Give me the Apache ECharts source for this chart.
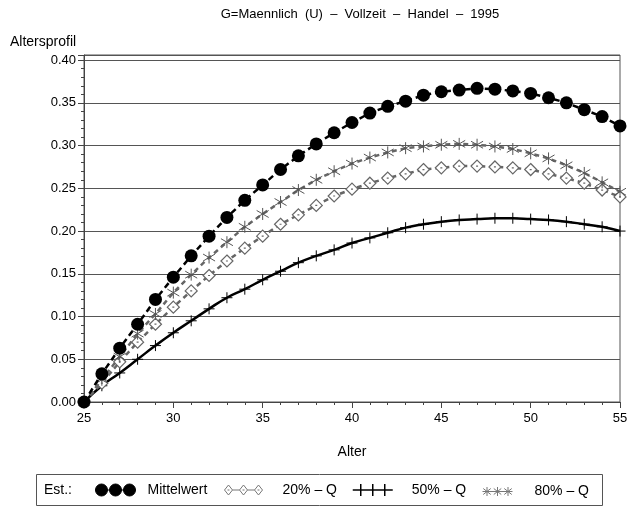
<!DOCTYPE html>
<html>
<head>
<meta charset="utf-8">
<script src="https://cdn.jsdelivr.net/npm/echarts@6/dist/echarts.min.js"></script>
<style>
html,body{margin:0;padding:0;background:#fff;}
#chart{width:639px;height:506px;}
</style>
</head>
<body>
<div id="chart"></div>
<script>
// ---- data ----
var ages = [25,26,27,28,29,30,31,32,33,34,35,36,37,38,39,40,41,42,43,44,45,46,47,48,49,50,51,52,53,54,55];
var mittelwert = [0.000,0.033,0.063,0.091,0.120,0.146,0.171,0.194,0.216,0.236,0.254,0.272,0.288,0.302,0.315,0.327,0.338,0.346,0.352,0.359,0.363,0.365,0.367,0.366,0.364,0.361,0.356,0.350,0.342,0.334,0.323];
var q20 = [0.000,0.022,0.047,0.070,0.091,0.111,0.130,0.148,0.165,0.180,0.194,0.208,0.219,0.230,0.241,0.249,0.256,0.262,0.267,0.272,0.274,0.276,0.276,0.275,0.274,0.272,0.267,0.262,0.256,0.248,0.240];
var q50 = [0.000,0.019,0.034,0.050,0.066,0.081,0.095,0.109,0.122,0.132,0.143,0.153,0.163,0.171,0.178,0.186,0.192,0.198,0.204,0.208,0.211,0.213,0.214,0.215,0.215,0.214,0.213,0.211,0.208,0.205,0.200];
var q80 = [0.000,0.026,0.053,0.080,0.103,0.128,0.149,0.169,0.187,0.205,0.220,0.234,0.248,0.260,0.270,0.279,0.286,0.292,0.297,0.299,0.301,0.302,0.301,0.299,0.296,0.291,0.285,0.277,0.268,0.257,0.246];
var seriesNames = ['Mittelwert','20% – Q','50% – Q','80% – Q'];
var yTicks = [0,0.05,0.10,0.15,0.20,0.25,0.30,0.35,0.40];
var xTicks = [25,30,35,40,45,50,55];
var titleText = 'G=Maennlich  (U)  –  Vollzeit  –  Handel  –  1995';

function pairs(vals){ return ages.map(function(a,i){ return [a, vals[i]]; }); }

var FONT = 'Liberation Sans';
var chart = echarts.init(document.getElementById('chart'), null, {renderer:'canvas'});

var diamondSym = 'path://M6,0L12,6L6,12L0,6Z M5,6L7,6';
var plusSym = 'path://M6,0L6,12 M0,6L12,6';
var starSym = 'path://M6,0L6,12 M0,2.5L12,9.5 M0,9.5L12,2.5';

var legCircle = 'path://M0,6L40,6 M0,6a6,6 0 1,0 12,0a6,6 0 1,0 -12,0 M14,6a6,6 0 1,0 12,0a6,6 0 1,0 -12,0 M28,6a6,6 0 1,0 12,0a6,6 0 1,0 -12,0';
var legDiamond = 'path://M5,1L9,6L5,11L1,6Z M20,1L24,6L20,11L16,6Z M35,1L39,6L35,11L31,6Z M9,6L16,6 M24,6L31,6 M4,6L6,6 M19,6L21,6 M34,6L36,6 M0,6L0,6 M40,6L40,6 M20,0L20,0 M20,12L20,12';
var legPlus = 'path://M0,6L40,6 M8,0L8,12 M20,0L20,12 M32,0L32,12';
var legStar = 'path://M0,6L40,6 M6,0L6,12 M1,2L11,10 M1,10L11,2 M20,0L20,12 M15,2L25,10 M15,10L25,2 M34,0L34,12 M29,2L39,10 M29,10L39,2';

function legend(name, icon, left, pad, h, style){
  return {
    data:[{name:name, icon:icon, itemStyle:style}],
    left:left, top:490 - h/2 - 1, itemWidth:40, itemHeight:h, padding:0,
    selectedMode:false,
    textStyle:{fontFamily:FONT, fontSize:14, color:'#000', padding:[0,0,0,pad]}
  };
}

var option = {
  animation:false,
  backgroundColor:'#fff',
  grid:{left:84, right:19, top:55, bottom:104, show:true, borderColor:'#555', borderWidth:1, backgroundColor:'transparent'},
  xAxis:{
    type:'value', min:25, max:55, interval:5,
    name:'Alter', nameLocation:'middle', nameGap:43,
    nameTextStyle:{fontFamily:FONT, fontSize:14, color:'#000'},
    axisLine:{show:true, onZero:false, lineStyle:{color:'#444', width:1}},
    axisTick:{show:true, inside:false, length:6, lineStyle:{color:'#444'}},
    minorTick:{show:true, splitNumber:5, length:3, lineStyle:{color:'#444'}},
    axisLabel:{fontFamily:FONT, fontSize:13, color:'#000', margin:10,
      formatter:function(v){ return xTicks.indexOf(v) >= 0 ? String(v) : ''; }},
    splitLine:{show:false}
  },
  yAxis:{
    type:'value', min:0, max:0.406, interval:0.05,
    axisLine:{show:true, lineStyle:{color:'#444', width:1}},
    axisTick:{show:true, inside:false, length:6, lineStyle:{color:'#444'}},
    minorTick:{show:true, splitNumber:5, length:3, lineStyle:{color:'#444'}},
    axisLabel:{fontFamily:FONT, fontSize:13, color:'#000', margin:8,
      formatter:function(v){
        for (var i=0;i<yTicks.length;i++){ if (Math.abs(yTicks[i]-v) < 1e-6) return yTicks[i].toFixed(2); }
        return '';
      }},
    splitLine:{show:true, lineStyle:{color:'#555', width:1}}
  },
  graphic:[
    {type:'text', left:10, top:35, style:{text:'Altersprofil', font:'14px "Liberation Sans"', fill:'#000'}},
    {type:'text', x:360, y:14, style:{text:titleText, font:'13px "Liberation Sans"', fill:'#000', align:'center', verticalAlign:'middle'}},
    {type:'rect', shape:{x:36.5, y:474.5, width:566, height:31}, style:{fill:'none', stroke:'#555', lineWidth:1}},
    {type:'text', x:44, y:490, style:{text:'Est.:', font:'14px "Liberation Sans"', fill:'#000', verticalAlign:'middle'}}
  ],
  legend:[
    legend(seriesNames[0], legCircle, 95, 7, 12, {color:'#000', borderColor:'#000', borderWidth:1}),
    legend(seriesNames[1], legDiamond, 223, 14, 12, {color:'#fff', borderColor:'#777', borderWidth:1}),
    legend(seriesNames[2], legPlus, 352, 14, 12, {color:'#000', borderColor:'#000', borderWidth:1.5}),
    legend(seriesNames[3], legStar, 482, 12, 9, {color:'#777', borderColor:'#777', borderWidth:1})
  ],
  series:[
    {
      name:seriesNames[2], type:'line', data:pairs(q50), smooth:true,
      symbol:plusSym, symbolSize:[11,11], showAllSymbol:true,
      itemStyle:{color:'#000', borderColor:'#000', borderWidth:1},
      lineStyle:{color:'#000', width:2.5, type:'solid'}, z:2
    },
    {
      name:seriesNames[1], type:'line', data:pairs(q20),
      symbol:diamondSym, symbolSize:[12,12], showAllSymbol:true,
      itemStyle:{color:'#fff', borderColor:'#666', borderWidth:1.2},
      lineStyle:{color:'#666', width:2.5, type:[5,4]}, z:3
    },
    {
      name:seriesNames[3], type:'line', data:pairs(q80),
      symbol:starSym, symbolSize:[12,12], showAllSymbol:true,
      itemStyle:{color:'#555', borderColor:'#555', borderWidth:1},
      lineStyle:{color:'#666', width:2.5, type:[5,4]}, z:4
    },
    {
      name:seriesNames[0], type:'line', data:pairs(mittelwert),
      symbol:'circle', symbolSize:13, showAllSymbol:true,
      itemStyle:{color:'#000', borderWidth:0},
      lineStyle:{color:'#000', width:2.5, type:[6,4]}, z:5
    }
  ]
};
chart.setOption(option);
</script>
</body>
</html>
